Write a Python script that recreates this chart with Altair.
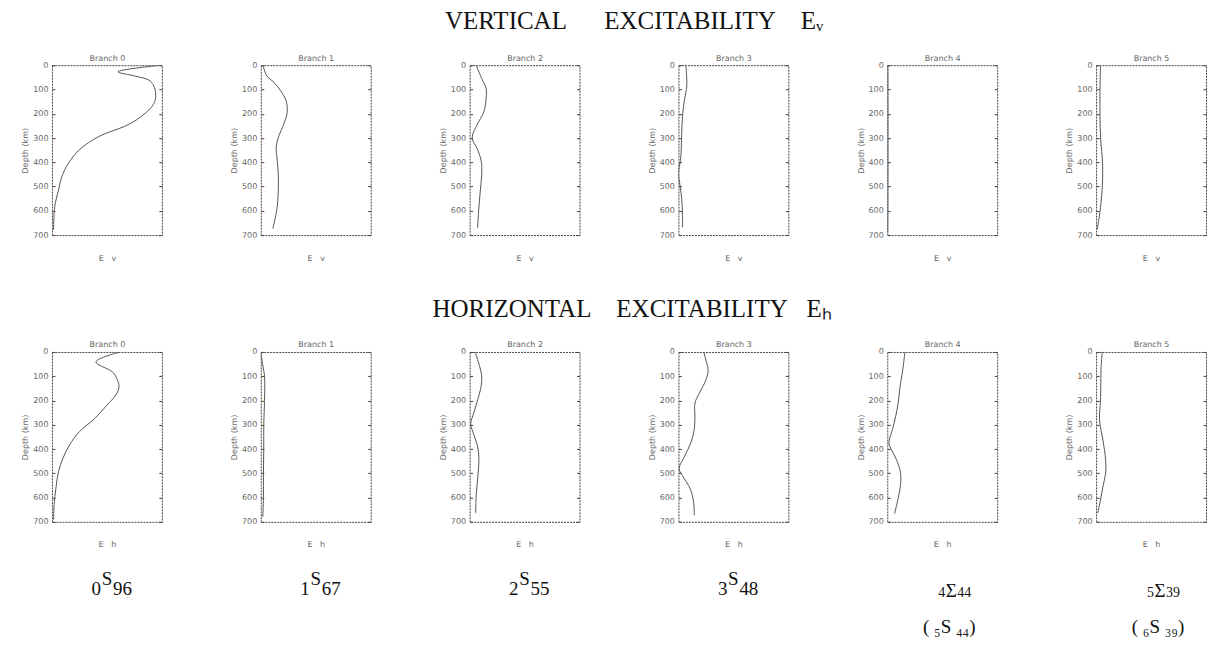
import altair as alt
import pandas as pd

TICKS = [0, 100, 200, 300, 400, 500, 600, 700]
BRANCHES = ["Branch 0", "Branch 1", "Branch 2", "Branch 3", "Branch 4", "Branch 5"]
LABEL_PRE = ["0", "1", "2", "3", "4", "5"]
LABEL_SYM = ["S", "S", "S", "S", "Σ", "Σ"]
LABEL_POST = ["96", "67", "55", "48", "44", "39"]
LABEL_ALT = ["", "", "", "", "(\u00a0₅S\u00a0₄₄)", "(\u00a0₆S\u00a0₃₉)"]

# Vertical excitability E_v  (depth in km, value as fraction of panel width)
ev0_depth = [0, 27, 45, 61, 80, 104, 142, 170, 197, 225, 252, 293, 348, 404, 459, 514, 583, 679]
ev0_val = [0.99, 0.60, 0.76, 0.88, 0.92, 0.94, 0.94, 0.91, 0.85, 0.77, 0.66, 0.43, 0.25, 0.15, 0.09, 0.06, 0.025, 0.015]
ev1_depth = [0, 44, 71, 105, 146, 194, 242, 297, 338, 393, 461, 557, 611, 673]
ev1_val = [0.02, 0.055, 0.12, 0.18, 0.23, 0.24, 0.21, 0.16, 0.14, 0.15, 0.16, 0.155, 0.14, 0.11]
ev2_depth = [0, 55, 96, 137, 191, 246, 287, 308, 342, 396, 451, 519, 601, 670]
ev2_val = [0.06, 0.11, 0.15, 0.15, 0.13, 0.067, 0.027, 0.027, 0.067, 0.106, 0.11, 0.097, 0.082, 0.073]
ev3_depth = [0, 86, 141, 210, 278, 361, 401, 443, 498, 552, 620, 668]
ev3_val = [0.067, 0.076, 0.055, 0.037, 0.03, 0.024, 0.015, 0.0, 0.015, 0.03, 0.037, 0.037]
ev4_depth = [0, 200, 400, 600, 690]
ev4_val = [0.005, 0.006, 0.006, 0.005, 0.004]
ev5_depth = [0, 127, 292, 415, 511, 608, 677]
ev5_val = [0.04, 0.035, 0.04, 0.06, 0.055, 0.034, 0.01]

# Horizontal excitability E_h
eh0_depth = [0, 41, 82, 109, 144, 178, 219, 274, 328, 383, 438, 492, 561, 629, 691]
eh0_val = [0.62, 0.40, 0.55, 0.59, 0.61, 0.58, 0.50, 0.39, 0.25, 0.16, 0.10, 0.06, 0.036, 0.02, 0.015]
eh1_depth = [0, 60, 100, 200, 300, 400, 500, 600, 680]
eh1_val = [0.0, 0.02, 0.034, 0.034, 0.027, 0.027, 0.024, 0.024, 0.018]
eh2_depth = [0, 57, 98, 138, 193, 248, 296, 330, 384, 439, 507, 589, 664]
eh2_val = [0.05, 0.09, 0.11, 0.106, 0.076, 0.04, 0.01, 0.03, 0.07, 0.085, 0.076, 0.06, 0.055]
eh3_depth = [0, 34, 75, 115, 170, 211, 265, 319, 374, 428, 482, 510, 564, 618, 673]
eh3_val = [0.23, 0.25, 0.27, 0.25, 0.19, 0.15, 0.15, 0.144, 0.113, 0.058, 0.006, 0.037, 0.107, 0.138, 0.144]
eh4_depth = [0, 64, 131, 213, 267, 321, 375, 402, 443, 497, 551, 605, 666]
eh4_val = [0.16, 0.144, 0.12, 0.098, 0.076, 0.046, 0.015, 0.037, 0.083, 0.12, 0.12, 0.098, 0.067]
eh5_depth = [0, 61, 198, 280, 363, 445, 500, 555, 610, 664]
eh5_val = [0.056, 0.046, 0.04, 0.031, 0.062, 0.087, 0.087, 0.062, 0.04, 0.015]

EV = [(ev0_depth, ev0_val), (ev1_depth, ev1_val), (ev2_depth, ev2_val),
      (ev3_depth, ev3_val), (ev4_depth, ev4_val), (ev5_depth, ev5_val)]
EH = [(eh0_depth, eh0_val), (eh1_depth, eh1_val), (eh2_depth, eh2_val),
      (eh3_depth, eh3_val), (eh4_depth, eh4_val), (eh5_depth, eh5_val)]

W, H = 110, 170
SERIF = "Liberation Serif"
SANS = "DejaVu Sans"
LINE_COLOR = "#555"
NB = "\u00a0"


def panel(i, depth, val, comp, with_label):
    df = pd.DataFrame({"depth": depth, "val": val})
    xs = alt.Scale(domain=[0, 1], nice=False, zero=False)
    ys = alt.Scale(domain=[0, 700], reverse=True, nice=False, zero=False)
    line = alt.Chart(df).mark_line(
        color=LINE_COLOR, strokeWidth=1, interpolate="catmull-rom", clip=True
    ).encode(
        x=alt.X("val:Q", scale=xs,
                axis=alt.Axis(title=f"E{NB*3}{comp}", labels=False, ticks=False,
                              domain=False, titlePadding=19)),
        y=alt.Y("depth:Q", scale=ys,
                axis=alt.Axis(title="Depth (km)", values=TICKS, tickSize=3, offset=-3,
                              labelPadding=4, titlePadding=3, domain=False, format="d")),
        order=alt.Order("depth:Q"),
    )
    ghost = alt.Chart(df).mark_line(opacity=0).encode(
        x=alt.X("val:Q", scale=xs,
                axis=alt.Axis(orient="top", title=BRANCHES[i], labels=False, ticks=False,
                              domain=False, titlePadding=3)),
        y=alt.Y("depth:Q", scale=ys,
                axis=alt.Axis(orient="right", title=None, labels=False, values=TICKS,
                              tickSize=3, offset=-3, domain=False)),
        order=alt.Order("depth:Q"),
    )
    layers = [line, ghost]
    if with_label:
        lab = pd.DataFrame({"pre": [LABEL_PRE[i]], "sym": [LABEL_SYM[i]],
                            "post": [LABEL_POST[i]], "alt": [LABEL_ALT[i]]})
        sigma = LABEL_SYM[i] == "Σ"
        dsize = 14 if sigma else 19
        base_y = H + 75 if sigma else H + 73
        sym_dy = 0 if sigma else -10
        cx = W / 2 + (9 if sigma else 0)
        common = dict(font=SERIF, color="#111", baseline="alphabetic")
        layers.append(alt.Chart(lab).mark_text(align="right", fontSize=dsize, dx=-6, **common)
                      .encode(text="pre:N", x=alt.value(cx), y=alt.value(base_y)))
        layers.append(alt.Chart(lab).mark_text(align="center", fontSize=19, dy=sym_dy, **common)
                      .encode(text="sym:N", x=alt.value(cx), y=alt.value(base_y)))
        layers.append(alt.Chart(lab).mark_text(align="left", fontSize=dsize, dx=6, **common)
                      .encode(text="post:N", x=alt.value(cx), y=alt.value(base_y)))
        if LABEL_ALT[i]:
            layers.append(alt.Chart(lab).mark_text(align="center", fontSize=19, **common)
                          .encode(text="alt:N", x=alt.value(cx - 2), y=alt.value(H + 111)))
    return alt.layer(*layers).resolve_axis(x="independent", y="independent").properties(
        width=W, height=H)


def row_title(text, offset, dx):
    return alt.TitleParams(text=text, font=SERIF, fontSize=25, fontWeight="normal",
                           color="#111", anchor="middle", offset=offset, dx=dx)


SPACING = 67
row1 = alt.hconcat(*[panel(i, d, v, "v", False) for i, (d, v) in enumerate(EV)],
                   spacing=SPACING).properties(
    title=row_title(f"VERTICAL{NB*6}EXCITABILITY{NB*4}Eᵥ", 20, 20))
row2 = alt.hconcat(*[panel(i, d, v, "h", True) for i, (d, v) in enumerate(EH)],
                   spacing=SPACING).properties(
    title=row_title(f"HORIZONTAL{NB*4}EXCITABILITY{NB*3}Eₕ", 19, 18))

chart = alt.vconcat(row1, row2, spacing=33).properties(
    padding={"left": 13, "top": 0, "right": 0, "bottom": 0}
).configure_view(
    stroke="#444", strokeWidth=1, strokeDash=[2, 1]
).configure_axis(
    labelFont=SANS, titleFont=SANS, labelFontSize=8, titleFontSize=8,
    labelColor="#666", titleColor="#666", titleFontWeight="normal",
    tickColor="#444", grid=False
)

chart.save("out.html", embed_options={"renderer": "svg", "actions": False})
